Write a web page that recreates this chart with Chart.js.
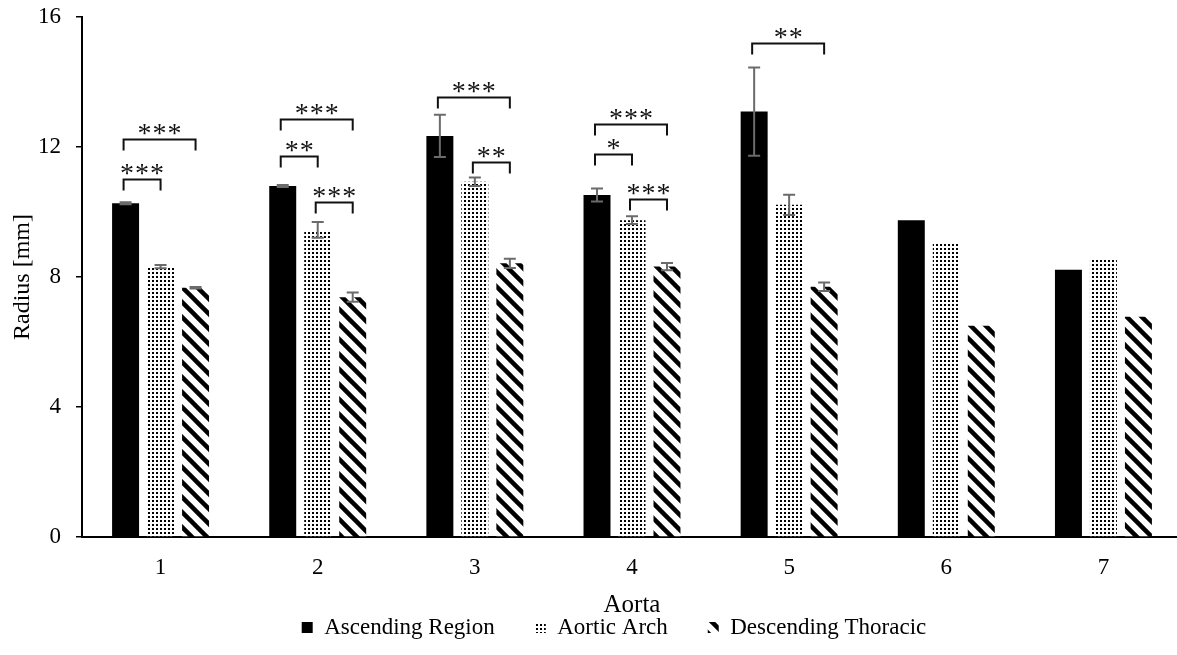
<!DOCTYPE html>
<html>
<head>
<meta charset="utf-8">
<script src="https://cdn.jsdelivr.net/npm/chart.js@4.4.1/dist/chart.umd.min.js"></script>
<style>
  html, body { margin: 0; padding: 0; background: #fff; overflow: hidden; }
  #wrap { width: 1182px; height: 655px; }
</style>
</head>
<body>
<div id="wrap"><canvas id="chart" width="1182" height="655"></canvas></div>
<script>
// Aorta radius by region (mm), mean and standard deviation
const categories = ['1', '2', '3', '4', '5', '6', '7'];
const seriesNames = ['Ascending Region', 'Aortic Arch', 'Descending Thoracic'];
const ascendingRadius = [10.27, 10.80, 12.34, 10.52, 13.09, 9.75, 8.22];
const ascendingSD     = [0.03, 0.03, 0.65, 0.20, 1.36, null, null];
const archRadius      = [8.32, 9.45, 10.93, 9.75, 10.22, 9.02, 8.54];
const archSD          = [0.05, 0.24, 0.13, 0.12, 0.31, null, null];
const descendingRadius = [7.67, 7.38, 8.42, 8.32, 7.70, 6.50, 6.78];
const descendingSD     = [0.02, 0.14, 0.14, 0.11, 0.13, null, null];
const yTicks = [0, 4, 8, 12, 16];

// Significance brackets: aorta index, from-series, to-series, bracket height (mm), stars
const sigAorta = [0, 0, 1, 1, 1, 2, 2, 3, 3, 3, 4];
const sigFrom  = [0, 0, 0, 0, 1, 0, 1, 0, 0, 1, 0];
const sigTo    = [1, 2, 1, 2, 2, 2, 2, 1, 2, 2, 2];
const sigLevel = [11.02, 12.25, 11.72, 12.86, 10.31, 13.53, 11.55, 11.78, 12.71, 10.41, 15.21];
const sigStars = ['***', '***', '**', '***', '***', '***', '**', '*', '***', '***', '**'];

const FONT = "'Liberation Serif', 'Times New Roman', serif";

function dotPattern() {
  const c = document.createElement('canvas');
  c.width = 4; c.height = 4;
  const g = c.getContext('2d');
  g.fillStyle = '#fff'; g.fillRect(0, 0, 4, 4);
  g.fillStyle = '#000'; g.fillRect(0, 0, 2, 2);
  return g.createPattern(c, 'repeat');
}

function hatchPattern() {
  const T = 15;
  const c = document.createElement('canvas');
  c.width = T; c.height = T;
  const g = c.getContext('2d');
  g.fillStyle = '#fff'; g.fillRect(0, 0, T, T);
  g.strokeStyle = '#000'; g.lineWidth = 4.5;
  for (const k of [-1, 0, 1]) {
    g.beginPath();
    g.moveTo(k * T - 2, -2);
    g.lineTo(k * T + T + 2, T + 2);
    g.stroke();
  }
  return g.createPattern(c, 'repeat');
}

const errors = [ascendingSD, archSD, descendingSD];

const errorBarPlugin = {
  id: 'errorBars',
  afterDatasetsDraw(chart) {
    const ctx = chart.ctx;
    const y = chart.scales.y;
    ctx.save();
    ctx.strokeStyle = '#6b6b6b';
    ctx.lineWidth = 2;
    chart.data.datasets.forEach((ds, di) => {
      const meta = chart.getDatasetMeta(di);
      meta.data.forEach((bar, i) => {
        const e = errors[di][i];
        if (e == null) return;
        const v = ds.data[i];
        const yTop = y.getPixelForValue(v + e);
        const yBot = y.getPixelForValue(v - e);
        const x = bar.x;
        ctx.beginPath();
        ctx.moveTo(x, yTop); ctx.lineTo(x, yBot);
        ctx.moveTo(x - 6, yTop); ctx.lineTo(x + 6, yTop);
        ctx.moveTo(x - 6, yBot); ctx.lineTo(x + 6, yBot);
        ctx.stroke();
      });
    });
    ctx.restore();
  }
};

const bracketPlugin = {
  id: 'sigBrackets',
  afterDatasetsDraw(chart) {
    const ctx = chart.ctx;
    const y = chart.scales.y;
    ctx.save();
    ctx.strokeStyle = '#111';
    ctx.lineWidth = 2;
    ctx.fillStyle = '#111';
    ctx.font = '28px ' + FONT;
    ctx.textAlign = 'center';
    ctx.textBaseline = 'alphabetic';
    ctx.letterSpacing = '1px';
    sigAorta.forEach((g, k) => {
      const x1 = chart.getDatasetMeta(sigFrom[k]).data[g].x - 2;
      const x2 = chart.getDatasetMeta(sigTo[k]).data[g].x;
      const yy = Math.round(y.getPixelForValue(sigLevel[k])) + 0.5;
      ctx.beginPath();
      ctx.moveTo(x1, yy + 11);
      ctx.lineTo(x1, yy);
      ctx.lineTo(x2, yy);
      ctx.lineTo(x2, yy + 11);
      ctx.stroke();
      ctx.fillText(sigStars[k], (x1 + x2) / 2 + 0.5, yy + 2);
    });
    ctx.restore();
  }
};

// Legend sits just under the axis title; take it out of the layout flow and place it there
const legendPlacement = {
  id: 'legendPlacement',
  afterInit(chart) {
    const lg = chart.legend;
    const fit = lg.fit.bind(lg);
    lg.fit = function () { fit(); this.height = 0; };
  },
  afterLayout(chart) {
    const lg = chart.legend;
    lg.top = 576;
    lg.bottom = 655;
    lg.height = 79;
    lg.left = 23;
    lg.right = 1182 + 23;
    lg.width = 1182;
  }
};

Chart.defaults.font.family = FONT;
Chart.defaults.color = '#000';

new Chart(document.getElementById('chart'), {
  type: 'bar',
  data: {
    labels: categories,
    datasets: [
      { label: seriesNames[0], data: ascendingRadius, backgroundColor: '#000', borderWidth: 0 },
      { label: seriesNames[1], data: archRadius, backgroundColor: dotPattern(), borderWidth: 0 },
      { label: seriesNames[2], data: descendingRadius, backgroundColor: hatchPattern(), borderWidth: 0 }
    ]
  },
  options: {
    responsive: false,
    animation: false,
    devicePixelRatio: 1,
    barPercentage: 0.771,
    categoryPercentage: 0.668,
    layout: { padding: { top: 17, left: 0, right: 0, bottom: 0 } },
    plugins: {
      legend: {
        position: 'bottom',
        labels: { boxWidth: 11, boxHeight: 11, padding: 40, font: { size: 23, family: FONT }, color: '#000' }
      },
      tooltip: { enabled: false }
    },
    scales: {
      x: {
        grid: { display: false },
        border: { display: true, color: '#000', width: 2 },
        ticks: { font: { size: 23 }, padding: 9 },
        title: { display: true, text: 'Aorta', font: { size: 25 }, padding: { top: 0, bottom: 35 } },
        afterFit(scale) { scale.height = 118; scale.paddingLeft = 0; scale.paddingRight = 0; }
      },
      y: {
        min: yTicks[0],
        max: yTicks[yTicks.length - 1],
        afterBuildTicks(scale) { scale.ticks = yTicks.map(v => ({ value: v })); },
        grid: { display: true, drawOnChartArea: false, drawTicks: true, tickLength: 6, color: '#000', lineWidth: 1.5 },
        border: { display: true, color: '#000', width: 2 },
        ticks: { font: { size: 23 }, padding: 15 },
        title: { display: true, text: 'Radius [mm]', font: { size: 24 }, padding: { top: 8, bottom: 0 } },
        afterFit(scale) { scale.width = 82; scale.paddingTop = 0; scale.paddingBottom = 0; }
      }
    }
  },
  plugins: [errorBarPlugin, bracketPlugin, legendPlacement]
});
</script>
</body>
</html>
